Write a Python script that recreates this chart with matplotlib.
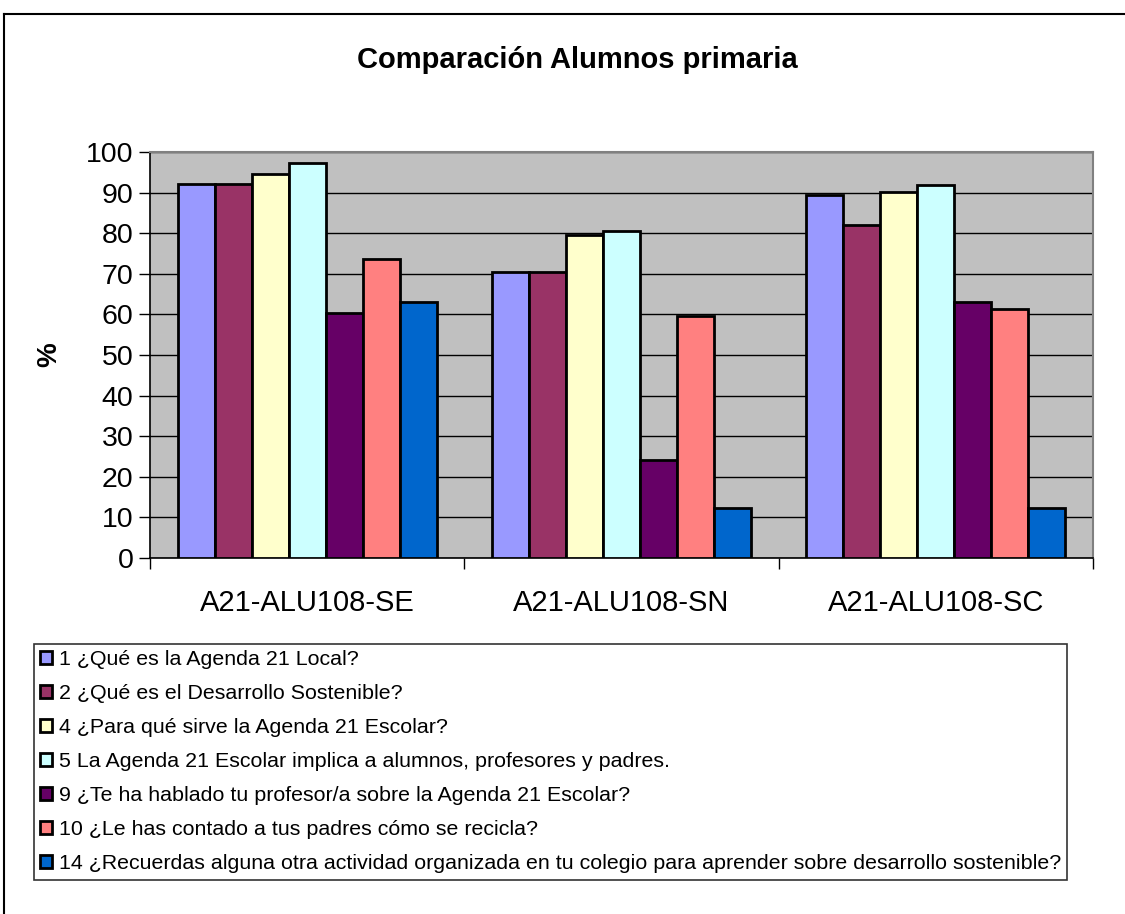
import matplotlib
matplotlib.use("Agg")
import matplotlib.pyplot as plt
from matplotlib.lines import Line2D
import numpy as np

plt.rcParams['font.family'] = ['Liberation Sans', 'DejaVu Sans']

categories = ["A21-ALU108-SE", "A21-ALU108-SN", "A21-ALU108-SC"]
series_labels = [
    "1 ¿Qué es la Agenda 21 Local?",
    "2 ¿Qué es el Desarrollo Sostenible?",
    "4 ¿Para qué sirve la Agenda 21 Escolar?",
    "5 La Agenda 21 Escolar implica a alumnos, profesores y padres.",
    "9 ¿Te ha hablado tu profesor/a sobre la Agenda 21 Escolar?",
    "10 ¿Le has contado a tus padres cómo se recicla?",
    "14 ¿Recuerdas alguna otra actividad organizada en tu colegio para aprender sobre desarrollo sostenible?",
]
s1 = [92.1, 70.4, 89.3]
s2 = [92.1, 70.4, 81.9]
s4 = [94.7, 79.6, 90.1]
s5 = [97.3, 80.6, 91.8]
s9 = [60.4, 24.1, 63.0]
s10 = [73.6, 59.6, 61.3]
s14 = [63.0, 12.4, 12.2]
series = [s1, s2, s4, s5, s9, s10, s14]
colors = ["#9999FF", "#993366", "#FFFFCC", "#CCFFFF", "#660066", "#FF8080", "#0066CC"]

fig = plt.figure(figsize=(11.25, 9.14), dpi=100)
ax = fig.add_axes([150/1125, (914-558)/914, 943/1125, 406/914])
ax.set_facecolor("#C0C0C0")

n = len(series)
group = 0.824
w = group / n
x = np.arange(len(categories))
for j, (vals, c, lab) in enumerate(zip(series, colors, series_labels)):
    ax.bar(x + (j - (n - 1) / 2) * w, vals, width=w, color=c, edgecolor="black",
           linewidth=2.0, label=lab, zorder=3)

ax.set_xlim(-0.5, len(categories) - 0.5)
ax.set_ylim(0, 100)
ax.set_yticks(np.arange(0, 101, 10))
ax.yaxis.grid(True, color="black", linewidth=1.0, zorder=1)
ax.set_axisbelow(True)
ax.set_xticks(x)
ax.set_xticklabels(categories, fontsize=21)
ax.tick_params(axis='x', length=0, pad=22)
ax.set_xticks(np.arange(-0.5, len(categories), 1.0), minor=True)
ax.tick_params(axis='x', which='minor', length=8, width=1, color="black")
ax.tick_params(axis='y', labelsize=20.5, length=8, width=1, pad=4)
for s in ["top", "right"]:
    ax.spines[s].set_color("#808080")
    ax.spines[s].set_linewidth(1.5)
for s in ["left", "bottom"]:
    ax.spines[s].set_color("black")
    ax.spines[s].set_linewidth(1.2)

ax.set_ylabel("%", fontsize=20, fontweight="bold", labelpad=17)

fig.text(577/1125, 1 - 60/914, "Comparación Alumnos primaria", ha="center", va="center",
         fontsize=21, fontweight="bold")

leg = fig.legend(loc="upper left", bbox_to_anchor=(34/1125, 1 - 644/914),
                 fontsize=15.4, frameon=True, fancybox=False, edgecolor="black",
                 handlelength=0.55, handleheight=0.55, handletextpad=0.3,
                 labelspacing=0.7, borderpad=0.3, borderaxespad=0)
leg.get_frame().set_linewidth(1.2)

# outer chart-area border (top and left visible)
fig.add_artist(Line2D([4/1125, 1], [1 - 14/914, 1 - 14/914], transform=fig.transFigure,
                      color="black", linewidth=1.5))
fig.add_artist(Line2D([4/1125, 4/1125], [0, 1 - 14/914], transform=fig.transFigure,
                      color="black", linewidth=1.5))

fig.savefig("out.png", dpi=100)
